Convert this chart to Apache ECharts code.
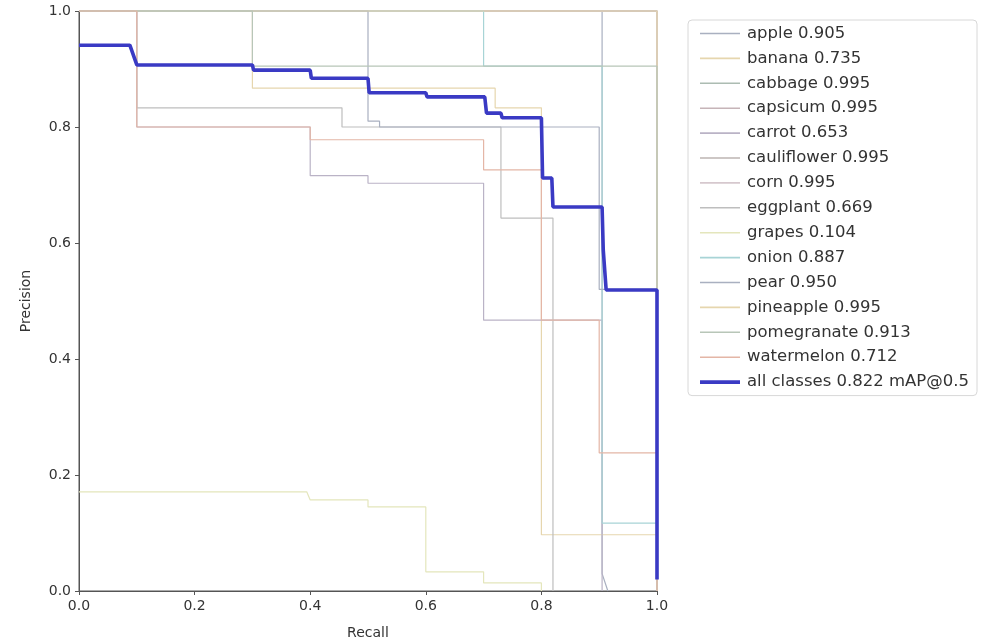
<!DOCTYPE html>
<html>
<head>
<meta charset="utf-8">
<script src="https://cdn.jsdelivr.net/npm/echarts@6/dist/echarts.min.js"></script>
<style>
html,body{margin:0;padding:0;background:#fff;}
#chart{width:1000px;height:643px;}
</style>
</head>
<body>
<div id="chart"></div>
<script>
// ---- data (recall, precision) ----
const classNames = ['apple','banana','cabbage','capsicum','carrot','cauliflower','corn','eggplant','grapes','onion','pear','pineapple','pomegranate','watermelon'];
const classAP = [0.905,0.735,0.995,0.995,0.653,0.995,0.995,0.669,0.104,0.887,0.950,0.995,0.913,0.712];
const mAP = 0.822;
const xTicks = [0.0,0.2,0.4,0.6,0.8,1.0];
const yTicks = [0.0,0.2,0.4,0.6,0.8,1.0];

const apple = [[0,1],[0.905,1],[0.905,0.03],[0.915,0.0]];
const banana = [[0,1],[0.3,1],[0.3,0.867],[0.72,0.867],[0.72,0.833],[0.8,0.833],[0.8,0.097],[1,0.097],[1,0]];
const cabbage = [[0,1],[1,1],[1,0]];
const capsicum = [[0,1],[1,1],[1,0]];
const carrot = [[0,1],[0.1,1],[0.1,0.8],[0.4,0.8],[0.4,0.716],[0.5,0.716],[0.5,0.703],[0.7,0.703],[0.7,0.467],[0.905,0.467],[0.905,0]];
const cauliflower = [[0,1],[1,1],[1,0]];
const corn = [[0,1],[1,1],[1,0]];
const eggplant = [[0,1],[0.1,1],[0.1,0.833],[0.455,0.833],[0.455,0.8],[0.73,0.8],[0.73,0.643],[0.82,0.643],[0.82,0]];
const grapes = [[0,0.171],[0.394,0.171],[0.4,0.157],[0.5,0.157],[0.5,0.145],[0.6,0.145],[0.6,0.033],[0.7,0.033],[0.7,0.014],[0.8,0.014],[0.8,0]];
const onion = [[0,1],[0.7,1],[0.7,0.905],[0.905,0.905],[0.905,0.117],[1,0.117],[1,0]];
const pear = [[0,1],[0.5,1],[0.5,0.81],[0.52,0.81],[0.52,0.8],[0.9,0.8],[0.9,0.52],[1,0.52],[1,0]];
const pineapple = [[0,1],[1,1],[1,0]];
const pomegranate = [[0,1],[0.3,1],[0.3,0.905],[1,0.905],[1,0]];
const watermelon = [[0,1],[0.1,1],[0.1,0.8],[0.4,0.8],[0.4,0.778],[0.7,0.778],[0.7,0.726],[0.8,0.726],[0.8,0.467],[0.9,0.467],[0.9,0.238],[1,0.238],[1,0]];
const allClasses = [[0,0.941],[0.088,0.941],[0.1,0.907],[0.3,0.907],[0.302,0.898],[0.4,0.898],[0.402,0.884],[0.5,0.884],[0.502,0.859],[0.6,0.859],[0.602,0.852],[0.702,0.852],[0.705,0.824],[0.73,0.824],[0.732,0.816],[0.8,0.816],[0.802,0.712],[0.818,0.712],[0.82,0.662],[0.905,0.662],[0.907,0.588],[0.91,0.588],[0.912,0.519],[1,0.519],[1,0.02]];

const classCurves = [apple,banana,cabbage,capsicum,carrot,cauliflower,corn,eggplant,grapes,onion,pear,pineapple,pomegranate,watermelon];
const classColors = ['#a9b0c0','#e6d6ae','#acbcb2','#c6b4b8','#bab3c6','#bdb5b2','#d6c8ce','#bebebe','#e4e6bc','#a8d4d6','#a9b0c0','#e6d6ae','#b8c6b8','#e4b6a6'];

const thinIcon = 'path://M0,0M40,4M0,1.2h40v1.6h-40z';
const thickIcon = 'path://M0,0M40,4M0,0.2h40v3.6h-40z';

const series = classCurves.map((c,i)=>({
  name: classNames[i] + ' ' + classAP[i].toFixed(3),
  type: 'line',
  data: c,
  symbol: 'none',
  lineStyle: {width: 1.2, color: classColors[i]},
  itemStyle: {color: classColors[i]},
  clip: false,
  z: 2
}));
series.push({
  name: 'all classes ' + mAP.toFixed(3) + ' mAP@0.5',
  type: 'line',
  data: allClasses,
  symbol: 'none',
  lineStyle: {width: 3.6, color: '#3a3ac4'},
  itemStyle: {color: '#3a3ac4'},
  clip: false,
  z: 5
});

const chart = echarts.init(document.getElementById('chart'), null, {renderer: 'canvas'});
chart.setOption({
  animation: false,
  backgroundColor: '#fff',
  textStyle: {fontFamily: 'DejaVu Sans'},
  grid: {left: 79, top: 11, width: 578, height: 580, outerBoundsMode: 'none', containLabel: false, show: true, borderColor: '#555', borderWidth: 1, backgroundColor: 'transparent'},
  legend: {
    orient: 'vertical',
    left: 688, top: 20,
    padding: [5, 8, 5, 12],
    itemWidth: 40, itemHeight: 4, itemGap: 7.9,
    borderColor: '#d8d8d8', borderWidth: 1, borderRadius: 4,
    textStyle: {fontSize: 16.5, lineHeight: 14, color: '#333', fontFamily: 'DejaVu Sans', padding: [0,0,0,2]},
    data: series.map((s,i)=>({name: s.name, icon: i === series.length - 1 ? thickIcon : thinIcon}))
  },
  xAxis: {
    type: 'value', min: 0, max: 1, interval: 0.2,
    name: 'Recall', nameLocation: 'middle', nameGap: 35,
    nameTextStyle: {fontSize: 14, color: '#333'},
    axisLine: {show: true, lineStyle: {color: '#555'}},
    axisTick: {show: true, length: 4, lineStyle: {color: '#555'}},
    axisLabel: {fontSize: 14, color: '#333', formatter: v => v.toFixed(1), margin: 8},
    splitLine: {show: false}
  },
  yAxis: {
    type: 'value', min: 0, max: 1, interval: 0.2,
    name: 'Precision', nameLocation: 'middle', nameGap: 46,
    nameTextStyle: {fontSize: 14, color: '#333'},
    axisLine: {show: true, lineStyle: {color: '#555'}},
    axisTick: {show: true, length: 4, lineStyle: {color: '#555'}},
    axisLabel: {fontSize: 14, color: '#333', formatter: v => v.toFixed(1), margin: 8},
    splitLine: {show: false}
  },
  series: series
});
</script>
</body>
</html>
